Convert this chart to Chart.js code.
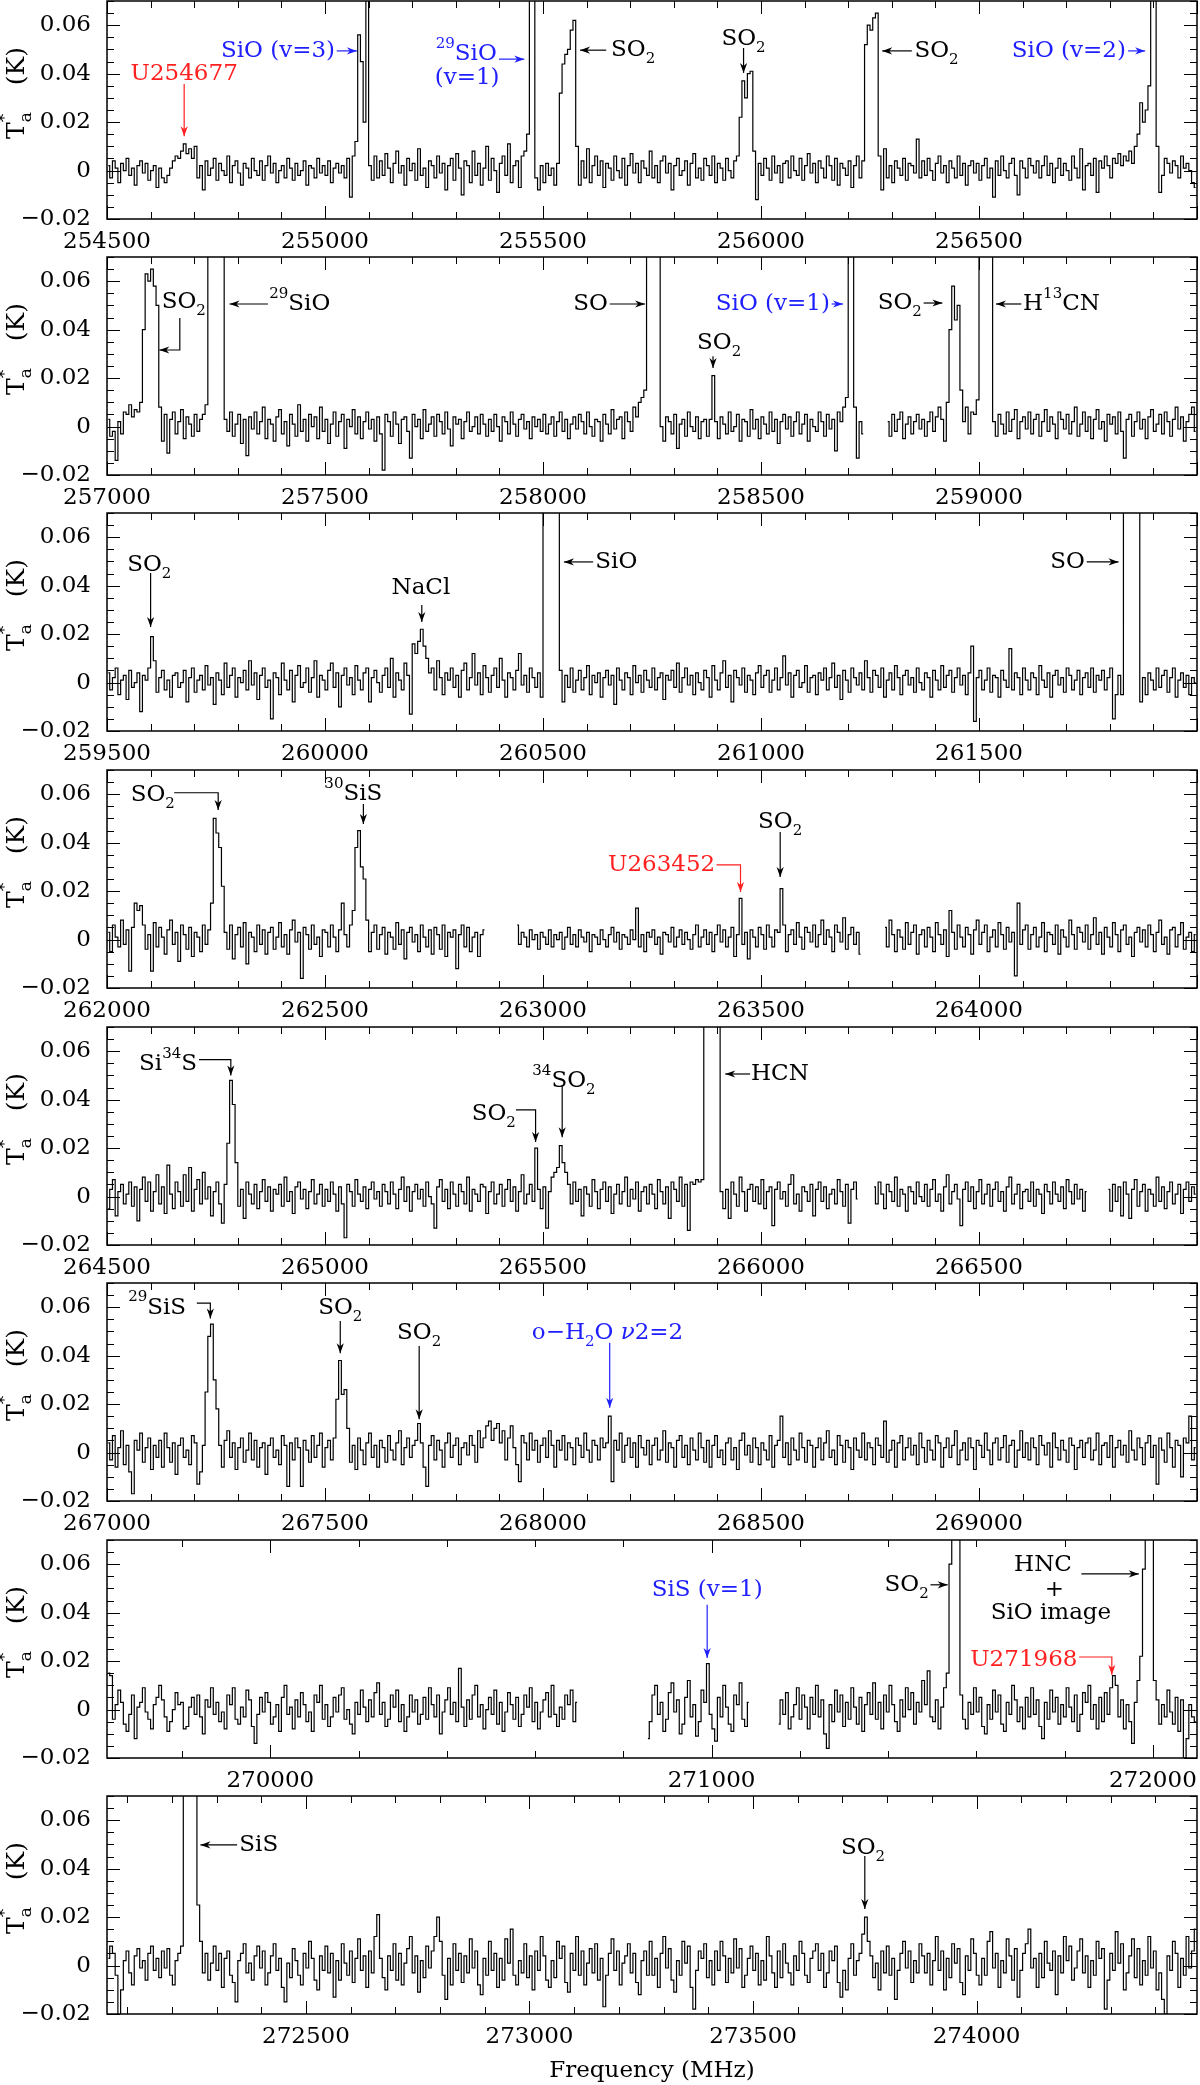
<!DOCTYPE html>
<html>
<head>
<meta charset="utf-8">
<script src="https://cdn.jsdelivr.net/npm/chart.js"></script>
<style>
  body { margin: 0; background: #fff; }
  #wrap { position: relative; width: 1200px; height: 2085px; overflow: hidden; background: #fff; }
  #wrap canvas { position: absolute; left: 0; }
</style>
</head>
<body>
<div id="wrap"></div>
<script>
// ---- spectra, Ta* in mK, one value per channel (null = no data) ----
const p1Range = [254500, 257000];
const p1Ticks = [254500, 255000, 255500, 256000, 256500];
const p1Ta = [
  2,-3,4,1,-5,3,0,5,-2,1,-6,2,4,-1,3,-4,0,2,-7,1,
  -3,-5,-2,1,4,6,5,8,11,7,9,5,10,-3,2,-8,4,-2,1,5,
  -4,3,0,-2,6,-5,2,4,-1,-6,3,1,-3,5,0,-2,4,-4,2,6,
  -1,3,-5,0,2,-3,5,1,-4,3,-2,0,4,-6,2,1,-3,5,-1,2,
  -2,4,-5,1,3,-1,2,-3,5,-11,6,12,56,45,20,300,2,-4,6,-3,
  4,-2,7,1,-5,3,8,-1,2,-6,5,0,3,-4,9,-2,1,-7,4,2,
  -3,6,-1,3,-8,2,5,-4,7,1,-10,4,2,-5,8,-2,3,-6,1,10,
  -4,5,0,-9,3,6,-2,11,-5,2,4,-7,6,8,15,300,300,-3,-8,2,
  -5,3,-2,1,-6,3,32,44,48,50,58,62,10,-6,4,-3,9,-5,2,6,
  -2,4,-7,3,1,-4,6,0,-3,5,-6,2,7,-1,3,-5,4,1,-2,8,
  -3,2,-5,4,6,-1,3,-8,2,5,-2,0,4,-6,3,7,-3,1,-4,5,
  2,-2,6,-5,3,1,-4,5,0,-3,4,6,22,37,30,40,41,8,-12,3,
  -2,5,1,-4,6,-1,2,-5,3,4,-3,6,0,-2,5,-4,2,7,-1,3,
  -5,4,1,-3,6,2,-4,5,-6,3,1,-2,4,-7,2,6,-3,4,52,60,
  58,63,65,6,-8,9,-3,2,-5,4,1,-2,5,-4,3,2,-1,13,-3,4,
  -2,5,0,-4,3,6,-1,2,-5,4,1,-3,6,-2,3,-6,2,4,-1,3,
  -4,2,5,-3,1,-11,4,-2,6,0,-3,3,5,-2,-10,4,1,-3,5,2,
  -1,4,-3,2,6,-2,3,-5,1,5,-2,3,0,-4,6,1,-3,9,-8,2,
  3,-2,5,-9,4,1,6,2,-3,5,3,7,2,6,4,8,3,10,15,28,
  20,25,35,300,300,10,-9,-2,5,3,-1,4,2,-3,6,1,3,0,-5,-7
];

const p2Range = [257000, 259500];
const p2Ticks = [257000, 257500, 258000, 258500, 259000];
const p2Ta = [
  3,-4,-2,-14,2,-3,6,5,9,4,7,6,10,40,63,60,65,58,50,8,
  -6,5,-11,3,6,-3,2,7,-5,4,1,-4,5,-2,3,5,9,300,300,300,
  300,300,300,3,-2,6,-4,1,5,-7,3,-12,4,-1,6,-3,2,8,-5,3,
  1,-6,4,7,-3,2,-8,5,1,-4,9,-2,3,-6,5,0,4,-5,8,-2,
  3,-7,1,6,-4,2,5,-9,3,0,7,-3,4,-5,2,6,-1,3,-6,4,
  -3,-18,5,2,-4,6,1,-7,3,4,-2,-13,5,0,3,-5,7,-2,1,4,
  -4,5,2,-3,6,-1,-8,4,1,3,-5,2,6,-2,0,4,-3,5,1,-4,
  3,-2,5,0,-6,4,2,-3,6,1,-4,3,5,-1,2,-5,4,0,3,-2,
  5,-3,1,4,-4,2,6,-2,3,-5,1,4,-1,5,2,-3,6,0,-4,3,
  2,-6,5,1,-3,7,-1,3,4,-5,6,2,-2,8,4,10,12,15,300,300,
  300,300,300,0,-6,4,2,-3,5,-9,1,3,-4,6,0,-2,4,-5,2,3,
  -4,3,21,2,-5,4,1,-3,6,-2,0,5,-6,3,2,-4,7,-1,3,-5,
  4,1,-3,6,-2,3,-7,2,5,-1,4,-4,2,6,-3,1,5,-6,3,0,
  -2,6,2,-4,5,-1,3,-10,6,2,8,12,300,300,8,-13,2,-3,null,null,
  null,null,null,null,null,null,2,-4,5,-2,3,6,-5,1,4,-3,2,5,-1,3,
  -4,2,6,-2,4,8,3,-6,10,40,58,44,50,15,2,8,-3,6,5,11,
  300,300,300,300,300,2,-4,5,1,-3,6,-2,3,7,-5,2,4,-1,6,-3,
  3,5,-4,2,7,-2,4,1,-5,6,3,-1,5,-3,2,8,-4,1,6,-2,
  4,-5,3,7,-1,2,-6,5,1,4,-3,6,-2,-13,3,5,-4,2,6,-1,
  3,-5,4,7,-2,1,5,-3,6,2,-4,3,8,-1,4,-6,2,5,8,-2
];

const p3Range = [259500, 262000];
const p3Ticks = [259500, 260000, 260500, 261000, 261500];
const p3Ta = [
  4,-3,2,6,-5,1,3,-7,5,-2,0,4,-12,3,1,6,19,9,-4,2,
  5,-3,1,-6,3,4,-2,0,5,-8,2,6,-4,1,3,-3,7,-1,2,-9,
  4,1,-5,8,-2,3,6,-6,2,0,5,-3,9,-1,4,-7,3,6,-2,1,
  -15,4,2,-5,8,1,-3,5,-8,3,7,-2,0,6,-4,2,9,-6,3,1,
  -3,5,8,-2,4,-10,3,6,-1,2,-5,7,1,-3,4,6,-8,2,5,0,
  -4,3,6,-2,10,-6,4,1,-3,8,3,-13,16,12,17,22,15,10,4,6,
  -3,9,2,-5,4,1,6,-2,3,-6,5,8,-3,2,12,-1,4,-5,7,2,
  -4,3,6,-2,10,1,-6,4,2,-3,5,12,-1,3,-4,6,2,-2,4,-6,
  300,300,300,300,300,300,5,-8,3,-2,6,-4,1,5,-3,2,7,-5,3,0,
  4,-6,2,5,-1,3,-9,6,1,-3,4,2,-5,7,0,3,-4,5,1,-2,
  6,-3,2,4,-7,3,1,5,-2,8,-4,2,6,-1,3,-5,4,0,-3,5,
  2,-6,7,1,-3,4,9,-2,3,-8,5,2,-1,6,-4,3,1,-5,4,7,
  -2,3,5,-4,1,6,-3,2,11,-1,4,-6,3,5,-2,0,7,-4,2,3,
  -5,4,1,6,-3,2,8,-2,3,-7,5,1,-4,6,2,-1,4,-3,9,2,
  -4,5,3,-2,6,-6,1,4,-3,7,2,-5,3,5,-1,2,-4,6,0,-3,
  4,2,-6,5,1,-3,7,-2,3,5,-4,2,6,-1,3,-5,4,15,-16,2,
  5,-3,1,6,-4,3,2,-6,5,1,-2,14,-3,4,2,-5,6,1,-3,4,
  2,-5,7,1,-2,4,-6,3,5,-1,2,-4,6,3,-3,1,5,-5,2,4,
  -2,6,-4,3,1,5,-3,2,6,-15,-5,3,-5,300,300,300,300,300,300,-8,
  2,-5,4,1,-3,6,-2,3,5,-4,2,6,-6,1,4,-2,3,-5,2,0
];

const p4Range = [262000, 264500];
const p4Ticks = [262000, 262500, 263000, 263500, 264000];
const p4Ta = [
  3,-5,6,1,-3,8,-2,4,-13,5,15,12,14,6,-4,2,-13,7,-3,5,
  1,-6,4,8,-2,3,-9,6,2,-4,5,-7,3,1,-5,6,-2,4,15,50,
  44,38,22,3,-4,6,-8,2,5,-3,7,-10,3,1,-5,6,-2,4,-6,3,
  5,-4,1,7,-3,2,-6,4,8,-1,3,-16,5,2,-4,6,-2,1,-7,4,
  3,-3,6,1,-5,4,15,2,-3,6,12,38,45,30,25,8,-5,3,6,-4,
  2,5,-6,3,1,-4,7,-2,4,-8,3,5,-1,2,-5,6,1,-3,4,-6,
  5,2,-4,6,-7,3,1,4,-12,2,6,-3,5,-5,1,3,-7,2,4,null,
  null,null,null,null,null,null,null,null,null,null,6,-2,3,1,-3,4,0,2,-4,3,
  1,-2,4,-3,2,0,3,-4,1,5,-2,2,-3,4,1,-1,3,-5,2,1,
  -2,4,0,-3,2,5,-1,3,-4,2,1,-2,4,0,13,-3,2,-5,3,1,
  4,-2,1,-6,3,2,-1,5,-3,1,4,-2,3,0,-4,2,6,-3,1,4,
  -2,3,-5,2,6,-1,4,-3,1,5,-7,2,17,-2,3,-8,4,1,-3,5,
  2,-4,6,1,-3,4,3,21,6,-5,2,4,-2,7,1,-4,5,3,-1,6,
  -3,2,8,-2,4,1,-5,6,3,-1,9,-4,2,5,-2,3,-6,null,null,null,
  null,null,null,null,null,5,-3,8,2,-5,4,1,-4,7,-2,3,6,-6,2,4,
  -3,5,1,-5,7,2,-2,4,-7,12,3,-4,6,1,-3,5,2,-6,4,8,
  -2,3,6,-5,1,4,-3,7,2,-4,5,-1,3,-15,15,-2,4,6,-4,2,
  5,-3,1,7,-5,3,2,-2,6,-6,4,1,-3,8,2,-4,5,3,-1,6,
  -4,2,9,-2,3,-6,5,1,-3,7,2,-5,4,6,-2,1,-7,3,5,-1,
  4,-3,6,2,-5,3,8,-2,1,-6,4,5,-3,2,7,-4,1,3,-5,2
];

const p5Range = [264500, 267000];
const p5Ticks = [264500, 265000, 265500, 266000, 266500];
const p5Ta = [
  -5,3,7,-8,2,5,-3,1,6,-4,4,-10,3,8,-2,6,-6,2,9,-3,
  4,-7,13,1,-5,6,2,-4,9,-2,12,-6,3,7,-3,10,-1,4,-8,2,
  6,-3,-11,5,22,48,38,14,-4,3,-9,6,1,-3,5,-5,2,7,-2,4,
  -6,3,1,5,-4,8,-2,2,-7,4,6,-1,3,-5,2,7,-3,1,5,-4,
  3,-2,6,1,-6,4,-3,-17,5,2,-4,7,1,-2,4,-5,3,6,-1,2,
  -4,5,2,-3,6,1,-5,3,8,-2,4,-6,2,5,-1,3,-4,6,0,-3,
  -13,4,7,-2,3,-5,6,1,-4,5,2,-3,8,-6,3,1,-2,5,4,-7,
  2,6,-3,1,5,-4,3,7,-2,4,-6,2,9,-3,1,5,-2,20,3,-5,
  4,-13,2,8,10,12,21,14,10,5,-3,6,-2,3,-8,4,1,-4,7,2,
  -5,3,6,-2,4,-7,1,5,-3,2,8,-4,3,-1,6,-6,2,4,-3,5,
  1,-5,7,2,-3,4,-9,6,3,-2,8,-4,5,-14,6,5,7,6,7,300,
  300,300,300,300,300,2,-5,3,-9,6,1,-4,8,2,-6,3,5,-2,4,-3,
  7,-5,2,4,-12,3,6,-1,2,-4,5,9,-3,1,-6,4,2,-2,5,-8,
  3,6,-2,4,-5,1,3,-3,7,2,-4,5,-11,3,6,-1,null,null,null,null,
  null,4,-3,6,1,-5,5,2,-2,8,-4,3,1,-6,4,2,-3,6,0,-2,
  5,-4,3,7,-2,1,-6,4,9,-3,2,5,-1,-12,3,6,-2,4,-5,2,
  7,-3,1,5,-4,3,6,-2,2,-6,4,8,-3,1,5,-5,2,3,-2,6,
  -4,3,1,-7,5,2,-3,6,1,-2,4,-5,7,2,-3,5,-1,3,-6,2,
  null,null,null,null,null,null,null,3,-6,5,-2,4,-8,6,1,-9,3,7,-4,2,
  5,-6,3,1,-4,8,-2,4,-5,2,6,-3,1,5,-7,3,6,-2,4,1
];

const p6Range = [267000, 269500];
const p6Ticks = [267000, 267500, 268000, 268500, 269000];
const p6Ta = [
  4,-3,7,-6,2,9,-5,3,-8,-17,5,1,8,-4,2,6,-7,3,-2,5,
  -6,8,2,-4,4,-9,3,6,-2,1,-5,7,4,-13,-8,3,25,48,53,30,
  18,3,-6,5,9,-2,4,-7,2,6,-4,1,8,-3,5,-6,2,4,-9,3,
  6,-2,1,-5,7,3,-14,4,-3,6,2,-14,5,1,-4,7,-2,3,8,-6,
  2,5,-3,6,22,38,24,26,10,-4,3,-7,6,1,-5,4,8,-2,3,-6,
  5,2,-4,7,1,-3,4,9,-5,2,6,-2,3,5,12,4,-6,-14,3,7,
  -3,5,1,-6,4,8,-2,3,6,-5,2,4,-1,7,3,-4,9,2,6,11,
  13,5,10,12,4,9,-3,6,11,2,-5,-12,7,4,-3,8,1,5,-4,3,
  6,-2,9,3,-6,5,1,7,-3,4,2,-5,6,3,-2,8,1,-4,5,3,
  -3,6,2,4,15,-12,5,1,8,-4,3,6,-2,4,-6,7,2,-1,5,-5,
  3,6,-3,1,9,-4,4,2,-6,5,7,-2,3,-5,6,1,-3,8,2,-4,
  5,-6,3,7,-2,1,-5,4,6,-3,2,-7,5,8,-1,3,-4,6,2,-5,
  4,1,-3,7,-6,3,5,15,-2,4,-5,6,1,-3,8,2,-4,5,3,-6,
  2,6,-3,4,9,-2,1,-5,7,3,-4,5,2,-7,6,1,-2,8,-3,4,
  2,-5,6,3,-2,13,-4,1,5,-6,4,7,-3,2,6,-1,3,-5,8,2,
  -4,5,1,-3,7,4,-6,2,6,-2,3,9,-5,1,4,-3,6,2,-7,5,
  3,-2,8,1,-5,4,6,-3,2,7,-4,3,5,-6,1,9,-2,4,-3,6,
  2,-5,7,3,-1,4,-6,8,2,-3,5,1,-4,6,3,-7,2,5,-2,4,
  6,-3,1,8,-5,3,4,-2,7,-6,2,5,-1,3,-4,9,1,-3,6,2,
  -5,4,7,-2,3,-13,6,1,-4,8,2,-6,5,3,-10,6,4,15,-3,2
];

const p7Range = [269630, 272100];
const p7Ticks = [270000, 271000, 272000];
const p7Ta = [
  15,14,-4,2,8,3,-6,-9,-2,6,-12,1,3,9,-1,-4,-8,2,5,10,
  4,-3,-9,-5,0,7,2,3,-8,-7,1,5,-2,6,-3,-10,4,1,9,-2,
  3,-5,-1,-8,6,2,9,-4,-6,1,-3,8,4,-7,-14,-2,5,-1,7,3,
  -6,-3,2,-9,5,10,-2,1,-8,4,-3,7,2,-5,-1,-9,6,3,10,-4,
  2,-7,-3,5,-1,6,9,-4,0,-6,-10,3,-2,8,1,-5,4,-3,7,11,
  -2,3,-7,-4,6,1,8,-5,2,-9,-3,6,-1,4,-6,-2,5,-4,9,2,
  -3,6,-10,-1,4,9,-2,3,-5,17,1,-7,4,-4,6,10,-3,2,-8,0,
  5,-2,8,-6,3,-9,-1,7,2,-4,5,-7,-2,6,1,9,-5,3,-8,-1,
  4,7,-3,10,-2,-7,1,-4,6,2,8,-5,3,null,null,null,null,null,null,null,
  null,null,null,null,null,null,null,null,null,null,null,null,null,null,null,null,null,null,-12,-5,
  6,10,-2,3,-9,-4,7,11,-1,4,-10,-6,5,12,-3,2,-11,-5,8,3,
  19,-2,-8,-13,5,-3,10,1,-6,-9,6,2,11,-4,-7,3,null,null,null,null,
  null,null,null,null,null,null,-6,4,-2,7,-8,-3,2,9,-4,6,1,-8,5,-2,
  10,-3,4,-10,-16,2,-5,8,-1,6,-7,3,-4,9,1,-6,5,-9,2,7,
  -2,11,-4,3,-8,6,-1,10,2,-5,-9,4,-3,9,0,7,-6,3,-1,12,
  2,16,-3,-5,4,-8,1,9,15,60,300,300,300,6,-4,-8,3,-2,9,-1,
  5,-7,-10,2,-4,8,-1,6,-6,-9,3,-2,10,4,-5,1,-8,5,-3,9,
  -2,4,-7,-12,3,-4,8,-1,5,-6,2,-3,9,1,-5,6,-9,-2,7,3,
  10,-4,2,-8,5,-5,7,-2,9,14,10,-3,4,-8,2,-5,-14,3,12,22,
  58,300,300,300,12,4,-6,2,-3,8,-1,-6,5,-9,4,-20,-12,2,-3,-5
];

const p8Range = [272055, 274493];
const p8Ticks = [272500, 273000, 273500, 274000];
const p8Ta = [
  3,8,5,-4,-22,-10,2,6,-3,-8,4,7,-1,2,-6,5,8,-2,3,-5,
  6,-1,7,-4,-8,2,5,8,300,300,300,300,300,25,10,-3,5,-6,1,8,
  -2,5,-9,3,6,-4,-7,-15,2,5,9,-3,1,-6,4,8,-1,6,-8,-3,
  4,9,-2,3,-9,-15,1,-5,7,2,-4,-8,5,-1,10,3,-6,-10,4,-2,
  8,-3,5,-13,2,-6,9,1,-4,6,-7,3,11,-2,4,-9,6,-3,12,21,
  3,-5,-10,4,-2,9,-6,5,-8,1,7,12,-3,4,-11,2,-5,8,-1,6,
  12,20,10,-4,-14,3,-8,9,-2,5,-7,4,-3,11,-1,6,-8,-12,3,-4,
  10,-2,5,-9,3,-6,11,1,15,-4,-8,2,-3,9,-5,4,-10,6,-2,12,
  4,-6,-9,2,-5,10,3,8,-7,-11,5,-2,12,-4,6,-8,1,7,-3,9,
  -6,3,-17,-4,5,11,-2,6,-8,1,4,9,-3,5,-7,-12,2,6,-4,10,
  -4,3,-9,5,12,-1,7,-6,-11,2,-4,10,1,8,-9,-18,-2,6,3,9,
  -5,2,-8,6,-2,10,4,-7,3,-3,11,-1,7,-9,-4,3,8,-2,5,-8,
  2,-6,12,4,-3,-9,6,-5,9,1,-3,-8,4,-2,10,5,-4,-7,3,6,
  9,-2,5,-9,-3,6,2,8,-7,-13,-2,-10,3,9,-4,2,5,13,20,10,
  4,-5,1,-10,6,-3,8,-4,3,-14,-2,5,10,-1,6,-7,2,-3,9,4,
  -3,5,-8,2,12,-2,6,-10,3,-5,9,1,7,-7,-12,4,-2,11,5,-4,
  -8,3,-4,10,14,-1,5,-9,2,-3,11,4,-6,7,-13,-2,5,9,15,-1,
  3,-9,5,-5,10,1,-2,6,-12,4,-3,12,2,8,-6,-1,6,11,-3,4,
  -9,2,-4,10,3,7,-18,-6,5,-2,14,1,9,-10,-3,4,11,-5,7,-8,
  2,-4,12,-1,6,-10,-3,-14,-20,4,-2,10,5,-9,3,-4,12,-1,6,15
];

const yRange = [-0.02, 0.07];
const yTicks = [-0.02, 0, 0.02, 0.04, 0.06];
const xTitle = 'Frequency (MHz)';
const yTitleMain = 'T_{a}^{*}';
const yTitleUnit = '(K)';

// ---- line identifications: text at (MHz, K), arrows as (MHz, K) paths ending at the tip ----
const INK = '#000', BLUE = '#2020ff', RED = '#ff2020';

const p1Labels = [
  { t: 'U254677', x: 254677, y: 0.0400, a: 'center', c: RED },
  { t: 'SiO (v=3)', x: 255023, y: 0.0494, a: 'right', c: BLUE },
  { t: '^{29}SiO', x: 255394, y: 0.0481, a: 'right', c: BLUE },
  { t: '(v=1)', x: 255326, y: 0.0383, a: 'center', c: BLUE },
  { t: 'SO_{2}', x: 255656, y: 0.0497, a: 'left' },
  { t: 'SO_{2}', x: 255960, y: 0.0543, a: 'center' },
  { t: 'SO_{2}', x: 256352, y: 0.0494, a: 'left' },
  { t: 'SiO (v=2)', x: 256837, y: 0.0494, a: 'right', c: BLUE }
];
const p1Arrows = [
  { p: [[254677, 0.0357], [254677, 0.0142]], c: RED },
  { p: [[255027, 0.0494], [255073, 0.0494]], c: BLUE },
  { p: [[255399, 0.0460], [255457, 0.0460]], c: BLUE },
  { p: [[255645, 0.0497], [255585, 0.0497]] },
  { p: [[255960, 0.0506], [255960, 0.0403]] },
  { p: [[256346, 0.0494], [256278, 0.0494]] },
  { p: [[256842, 0.0494], [256881, 0.0494]], c: BLUE }
];

const p2Labels = [
  { t: 'SO_{2}', x: 257176, y: 0.0515, a: 'center' },
  { t: '^{29}SiO', x: 257372, y: 0.0506, a: 'left' },
  { t: 'SO', x: 258149, y: 0.0506, a: 'right' },
  { t: 'SO_{2}', x: 258404, y: 0.0345, a: 'center' },
  { t: 'SiO (v=1)', x: 258658, y: 0.0506, a: 'right', c: BLUE },
  { t: 'SO_{2}', x: 258869, y: 0.0510, a: 'right' },
  { t: 'H^{13}CN', x: 259101, y: 0.0506, a: 'left' }
];
const p2Arrows = [
  { p: [[257167, 0.0448], [257167, 0.0316], [257120, 0.0316]] },
  { p: [[257369, 0.0506], [257281, 0.0506]] },
  { p: [[258153, 0.0506], [258234, 0.0506]] },
  { p: [[258390, 0.0290], [258390, 0.0242]] },
  { p: [[258662, 0.0506], [258688, 0.0506]], c: BLUE },
  { p: [[258873, 0.0510], [258916, 0.0510]] },
  { p: [[259097, 0.0506], [259039, 0.0506]] }
];

const p3Labels = [
  { t: 'SO_{2}', x: 259597, y: 0.0485, a: 'center' },
  { t: 'NaCl', x: 260220, y: 0.0390, a: 'center' },
  { t: 'SiO', x: 260620, y: 0.0498, a: 'left' },
  { t: 'SO', x: 261743, y: 0.0498, a: 'right' }
];
const p3Arrows = [
  { p: [[259600, 0.0452], [259600, 0.0229]] },
  { p: [[260222, 0.0320], [260222, 0.0250]] },
  { p: [[260615, 0.0498], [260548, 0.0498]] },
  { p: [[261747, 0.0498], [261820, 0.0498]] }
];

const p4Labels = [
  { t: 'SO_{2}', x: 262105, y: 0.0597, a: 'center' },
  { t: '^{30}SiS', x: 262565, y: 0.0600, a: 'center' },
  { t: 'U263452', x: 263395, y: 0.0308, a: 'right', c: RED },
  { t: 'SO_{2}', x: 263544, y: 0.0485, a: 'center' }
];
const p4Arrows = [
  { p: [[262154, 0.0606], [262255, 0.0606], [262255, 0.0535]] },
  { p: [[262588, 0.0560], [262588, 0.0477]] },
  { p: [[263398, 0.0308], [263453, 0.0308], [263453, 0.0196]], c: RED },
  { p: [[263544, 0.0444], [263544, 0.0258]] }
];

const p5Labels = [
  { t: 'Si^{34}S', x: 264640, y: 0.0547, a: 'center' },
  { t: '^{34}SO_{2}', x: 265548, y: 0.0478, a: 'center' },
  { t: 'SO_{2}', x: 265387, y: 0.0340, a: 'center' },
  { t: 'HCN', x: 265977, y: 0.0506, a: 'left' }
];
const p5Arrows = [
  { p: [[264711, 0.0565], [264784, 0.0565], [264784, 0.0500]] },
  { p: [[265544, 0.0458], [265544, 0.0245]] },
  { p: [[265438, 0.0358], [265483, 0.0358], [265483, 0.0225]] },
  { p: [[265975, 0.0506], [265918, 0.0506]] }
];

const p6Labels = [
  { t: '^{29}SiS', x: 267115, y: 0.0598, a: 'center' },
  { t: 'SO_{2}', x: 267535, y: 0.0598, a: 'center' },
  { t: 'SO_{2}', x: 267716, y: 0.0495, a: 'center' },
  { t: 'o\u2212H_{2}O %{\u03bd}2=2', x: 268148, y: 0.0495, a: 'center', c: BLUE }
];
const p6Arrows = [
  { p: [[267206, 0.0617], [267237, 0.0617], [267237, 0.0553]] },
  { p: [[267535, 0.0543], [267535, 0.0410]] },
  { p: [[267716, 0.0440], [267716, 0.0138]] },
  { p: [[268153, 0.0453], [268153, 0.0185]], c: BLUE }
];

const p7Labels = [
  { t: 'SiS (v=1)', x: 270990, y: 0.0495, a: 'center', c: BLUE },
  { t: 'SO_{2}', x: 271492, y: 0.0515, a: 'right' },
  { t: 'HNC', x: 271751, y: 0.0598, a: 'center' },
  { t: '+', x: 271777, y: 0.0494, a: 'center' },
  { t: 'SiO image', x: 271769, y: 0.0398, a: 'center' },
  { t: 'U271968', x: 271829, y: 0.0206, a: 'right', c: RED }
];
const p7Arrows = [
  { p: [[270990, 0.0433], [270990, 0.0213]], c: BLUE },
  { p: [[271496, 0.0515], [271535, 0.0515]] },
  { p: [[271838, 0.0560], [271968, 0.0560]] },
  { p: [[271833, 0.0217], [271907, 0.0217], [271907, 0.0144]], c: RED }
];

const p8Labels = [
  { t: 'SiS', x: 272351, y: 0.0498, a: 'left' },
  { t: 'SO_{2}', x: 273746, y: 0.0486, a: 'center' }
];
const p8Arrows = [
  { p: [[272346, 0.0498], [272264, 0.0498]] },
  { p: [[273750, 0.0452], [273750, 0.0233]] }
];

const panels = [
  { ta: p1Ta, range: p1Range, ticks: p1Ticks, labels: p1Labels, arrows: p1Arrows, major: 500, minor: 100 },
  { ta: p2Ta, range: p2Range, ticks: p2Ticks, labels: p2Labels, arrows: p2Arrows, major: 500, minor: 100 },
  { ta: p3Ta, range: p3Range, ticks: p3Ticks, labels: p3Labels, arrows: p3Arrows, major: 500, minor: 100 },
  { ta: p4Ta, range: p4Range, ticks: p4Ticks, labels: p4Labels, arrows: p4Arrows, major: 500, minor: 100 },
  { ta: p5Ta, range: p5Range, ticks: p5Ticks, labels: p5Labels, arrows: p5Arrows, major: 500, minor: 100 },
  { ta: p6Ta, range: p6Range, ticks: p6Ticks, labels: p6Labels, arrows: p6Arrows, major: 500, minor: 100 },
  { ta: p7Ta, range: p7Range, ticks: p7Ticks, labels: p7Labels, arrows: p7Arrows, major: 1000, minor: 200 },
  { ta: p8Ta, range: p8Range, ticks: p8Ticks, labels: p8Labels, arrows: p8Arrows, major: 500, minor: 100, title: xTitle }
];

// ---- layout ----
const FONT = '"DejaVu Serif", "Liberation Serif", serif';
const TOPS = [1, 257, 513, 770, 1027, 1283, 1540, 1796];
const PAD = 6, AREA_H = 218, AXIS_W = 107;
const LABEL_SIZE = 23, TICK_SIZE = 23;

// tiny markup: _{sub} ^{sup} %{italic}
function richParts(s) {
  const out = [];
  let buf = '', i = 0;
  while (i < s.length) {
    const c = s[i];
    if ((c === '_' || c === '^' || c === '%') && s[i + 1] === '{') {
      if (buf) out.push({ t: buf, m: 'n' });
      buf = '';
      const j = s.indexOf('}', i);
      out.push({ t: s.slice(i + 2, j), m: c });
      i = j + 1;
    } else { buf += c; i++; }
  }
  if (buf) out.push({ t: buf, m: 'n' });
  return out;
}

function drawRich(ctx, s, x, y, align, color, size) {
  const parts = richParts(s);
  const fontFor = m => (m === '%' ? 'italic ' : '') +
    Math.round(m === '_' || m === '^' ? size * 0.66 : size) + 'px ' + FONT;
  let w = 0, prev = null, sStart = 0, sW = 0;
  const placed = [];
  parts.forEach(pt => {
    ctx.font = fontFor(pt.m);
    const pw = ctx.measureText(pt.t).width;
    const script = pt.m === '_' || pt.m === '^';
    let px;
    if (script && prev && prev !== pt.m) {
      px = sStart; w = sStart + Math.max(sW, pw); prev = null;
    } else {
      px = w; w += pw;
      if (script) { prev = pt.m; sStart = px; sW = pw; } else prev = null;
    }
    placed.push({ t: pt.t, m: pt.m, px });
  });
  const x0 = align === 'center' ? x - w / 2 : align === 'right' ? x - w : x;
  ctx.fillStyle = color;
  ctx.textAlign = 'left';
  ctx.textBaseline = 'middle';
  placed.forEach(pt => {
    ctx.font = fontFor(pt.m);
    const dy = pt.m === '_' ? size * 0.40 : pt.m === '^' ? -size * 0.44 : 0;
    ctx.fillText(pt.t, x0 + pt.px, y + dy);
  });
}

function drawArrow(ctx, pts, color) {
  ctx.strokeStyle = color;
  ctx.fillStyle = color;
  ctx.lineWidth = 1.2;
  ctx.beginPath();
  pts.forEach((p, i) => i ? ctx.lineTo(p[0], p[1]) : ctx.moveTo(p[0], p[1]));
  ctx.stroke();
  const [x1, y1] = pts[pts.length - 2], [x2, y2] = pts[pts.length - 1];
  const ang = Math.atan2(y2 - y1, x2 - x1), L = 10, W = 3.6;
  const cx = Math.cos(ang), sy = Math.sin(ang);
  ctx.beginPath();
  ctx.moveTo(x2, y2);
  ctx.lineTo(x2 - L * cx + W * sy, y2 - L * sy - W * cx);
  ctx.lineTo(x2 - L * 0.7 * cx, y2 - L * 0.7 * sy);
  ctx.lineTo(x2 - L * cx - W * sy, y2 - L * sy + W * cx);
  ctx.closePath();
  ctx.fill();
}

const decor = {
  id: 'decor',
  afterDatasetsDraw(chart, args, opts) {
    const { ctx, chartArea: a, scales: { x, y } } = chart;
    const p = opts.panel;
    ctx.save();
    // inward ticks on all four sides
    ctx.strokeStyle = INK;
    ctx.lineWidth = 1;
    ctx.beginPath();
    for (let k = Math.ceil(x.min / p.minor); k * p.minor <= x.max; k++) {
      const v = k * p.minor;
      const px = Math.round(x.getPixelForValue(v)) + 0.5;
      const len = v % p.major === 0 ? 13 : 7;
      ctx.moveTo(px, a.bottom); ctx.lineTo(px, a.bottom - len);
      ctx.moveTo(px, a.top); ctx.lineTo(px, a.top + len);
    }
    for (let k = -4; k <= 14; k++) {
      const py = Math.round(y.getPixelForValue(k * 0.005)) + 0.5;
      const len = k % 4 === 0 ? 13 : 7;
      ctx.moveTo(a.left, py); ctx.lineTo(a.left + len, py);
      ctx.moveTo(a.right, py); ctx.lineTo(a.right - len, py);
    }
    ctx.stroke();
    ctx.lineWidth = 1.5;
    ctx.strokeRect(a.left, a.top, a.right - a.left, a.bottom - a.top);

    p.arrows.forEach(ar => drawArrow(ctx,
      ar.p.map(([f, t]) => [x.getPixelForValue(f), y.getPixelForValue(t)]), ar.c || INK));
    p.labels.forEach(l => drawRich(ctx, l.t, x.getPixelForValue(l.x), y.getPixelForValue(l.y),
      l.a, l.c || INK, LABEL_SIZE));

    // rotated y title: "T_a*" at the bottom end, "(K)" at the top end
    ctx.save();
    ctx.translate(17, a.top + 92);
    ctx.rotate(-Math.PI / 2);
    drawRich(ctx, yTitleMain, -46, 0, 'left', INK, 25);
    drawRich(ctx, yTitleUnit, 46, 0, 'right', INK, 25);
    ctx.restore();

    if (p.title) drawRich(ctx, p.title, (a.left + a.right) / 2, a.bottom + 57, 'center', INK, 23);
    ctx.restore();
  }
};

const wrap = document.getElementById('wrap');
panels.forEach((p, i) => {
  const axisH = p.title ? 71 : 38;
  const H = PAD + AREA_H + axisH;
  const cv = document.createElement('canvas');
  cv.width = 1200;
  cv.height = H;
  cv.style.top = (TOPS[i] - PAD) + 'px';
  wrap.appendChild(cv);

  const step = (p.range[1] - p.range[0]) / p.ta.length;
  const pts = p.ta.map((v, k) => ({ x: p.range[0] + (k + 0.5) * step, y: v === null ? null : v / 1000 }));

  new Chart(cv, {
    type: 'line',
    data: {
      datasets: [{
        data: pts,
        borderColor: INK,
        borderWidth: 1.2,
        pointRadius: 0,
        stepped: 'middle',
        spanGaps: false,
        fill: false
      }]
    },
    options: {
      responsive: false,
      animation: false,
      events: [],
      layout: { padding: { top: PAD, right: 3, left: 0, bottom: 0 } },
      plugins: { legend: { display: false }, tooltip: { enabled: false }, decor: { panel: p } },
      scales: {
        x: {
          type: 'linear',
          min: p.range[0],
          max: p.range[1],
          grid: { display: false, drawTicks: false },
          border: { display: false },
          afterBuildTicks: s => { s.ticks = p.ticks.map(v => ({ value: v })); },
          afterFit: s => { s.height = axisH; s.paddingLeft = 0; s.paddingRight = 0; },
          ticks: {
            autoSkip: false, maxRotation: 0, padding: 9, color: INK,
            font: { family: FONT, size: TICK_SIZE },
            callback: v => String(v)
          }
        },
        y: {
          min: yRange[0],
          max: yRange[1],
          grid: { display: false, drawTicks: false },
          border: { display: false },
          afterBuildTicks: s => { s.ticks = yTicks.map(v => ({ value: v })); },
          afterFit: s => { s.width = AXIS_W; s.paddingTop = 0; s.paddingBottom = 0; },
          ticks: {
            padding: 16, color: INK,
            font: { family: FONT, size: TICK_SIZE },
            callback: v => v === 0 ? '0' : (v < 0 ? '\u2212' : '') + Math.abs(v).toFixed(2)
          }
        }
      }
    },
    plugins: [decor]
  });
});
</script>
</body>
</html>
